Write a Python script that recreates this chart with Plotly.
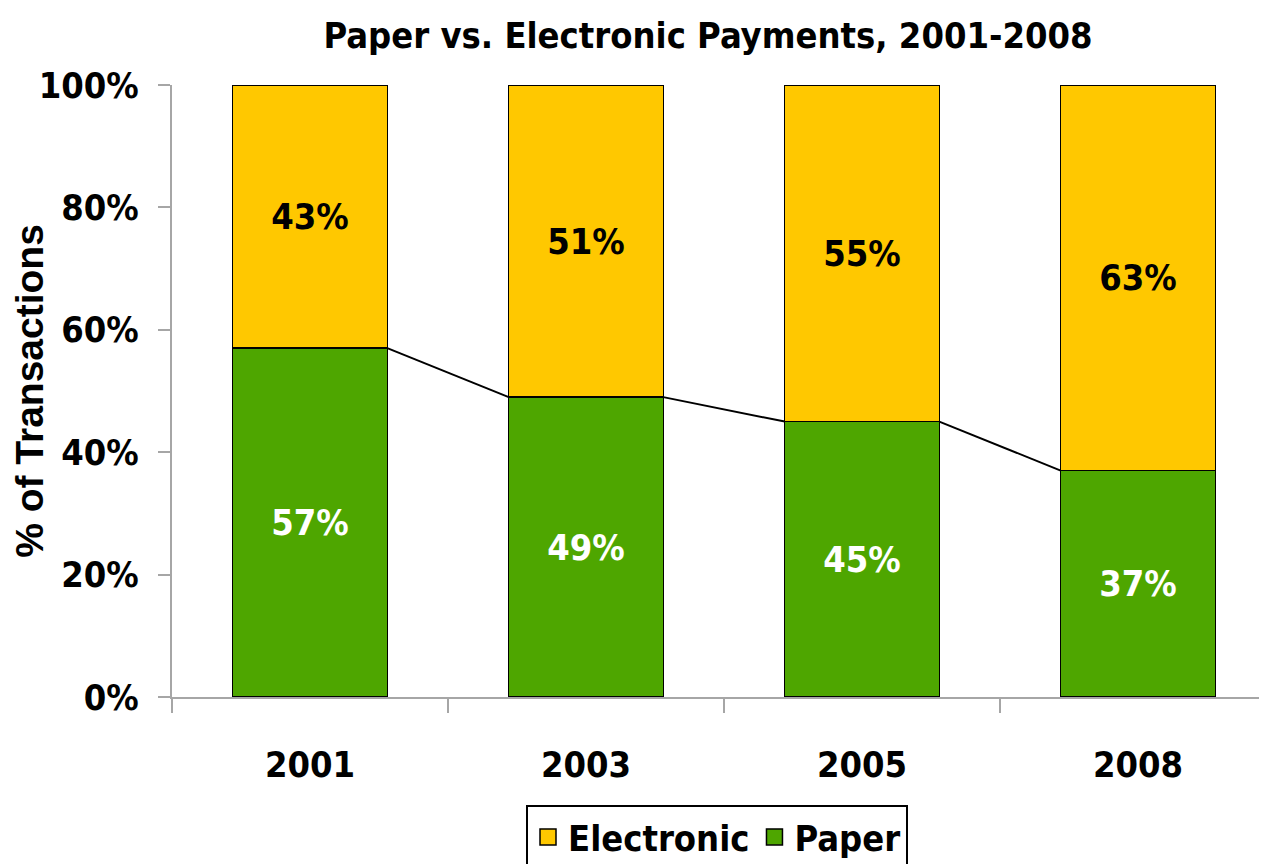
import plotly.graph_objects as go

years = ["2001", "2003", "2005", "2008"]
paper = [57, 49, 45, 37]
electronic = [43, 51, 55, 63]

YELLOW = "#FFC800"
GREEN = "#4EA600"
AXIS = "#A6A6A6"
NARROW = "DejaVu Sans Condensed, Liberation Sans Narrow, sans-serif"
BAR_W = 0.56
FS = 36

# page body has an 8px margin, so the figure is sized to the visible area
W, H = 1259, 856
L, T, B = 164, 77, 167
PW, PH = W - L, H - T - B

xpos = list(range(len(years)))

fig = go.Figure()
fig.add_trace(go.Bar(
    x=xpos, y=[p / 100 for p in paper], name="Paper", width=BAR_W, showlegend=False,
    marker=dict(color=GREEN, line=dict(color="black", width=1.5)),
    text=[f"{p}%" for p in paper], textposition="inside", insidetextanchor="middle",
    textfont=dict(family=NARROW, size=FS, color="white", weight="bold"),
))
fig.add_trace(go.Bar(
    x=xpos, y=[e / 100 for e in electronic], name="Electronic", width=BAR_W, showlegend=False,
    marker=dict(color=YELLOW, line=dict(color="black", width=1.5)),
    text=[f"{e}%" for e in electronic], textposition="inside", insidetextanchor="middle",
    textfont=dict(family=NARROW, size=FS, color="black", weight="bold"),
))

# series lines joining paper tops between neighbouring bars
lx, ly = [], []
for i in range(len(years) - 1):
    lx += [xpos[i] + BAR_W / 2, xpos[i + 1] - BAR_W / 2, None]
    ly += [paper[i] / 100, paper[i + 1] / 100, None]
fig.add_trace(go.Scatter(x=lx, y=ly, mode="lines", line=dict(color="black", width=2),
                         showlegend=False, hoverinfo="skip"))

# legend entries (larger square keys)
for name, col in [("Electronic", YELLOW), ("Paper", GREEN)]:
    fig.add_trace(go.Scatter(x=[None], y=[None], mode="markers", name=name,
                             marker=dict(symbol="square", size=16, color=col,
                                         line=dict(color="black", width=1.5))))

fig.update_layout(
    width=W, height=H,
    barmode="stack",
    plot_bgcolor="white", paper_bgcolor="white",
    margin=dict(l=L, r=0, t=T, b=B, autoexpand=False),
    title=dict(text="<b>Paper vs. Electronic Payments, 2001-2008</b>",
               x=700 / W, xanchor="center", xref="container",
               y=1 - 27 / H, yanchor="middle", yref="container",
               font=dict(family=NARROW, size=FS, color="black")),
    legend=dict(orientation="h", traceorder="normal",
                x=(709 - L) / PW, xanchor="center", y=-(805 - 8 - (T + PH)) / PH, yanchor="top",
                bordercolor="black", borderwidth=2, itemwidth=30,
                font=dict(family=NARROW, size=FS, color="black", weight="bold")),
    showlegend=True,
    uniformtext=dict(mode="show", minsize=10),
    shapes=[dict(type="line", xref="paper", yref="paper", x0=-12 / PW, x1=0, y0=0, y1=0,
                 line=dict(color=AXIS, width=2))],
)
fig.update_xaxes(
    range=[-0.5, -0.5 + PW / 276], showgrid=False, zeroline=False, automargin=False,
    showline=True, linecolor=AXIS, linewidth=2,
    tickvals=xpos, ticktext=years, ticks="", ticklabelstandoff=35,
    tickfont=dict(family=NARROW, size=FS, color="black", weight="bold"),
    minor=dict(tickmode="linear", tick0=-0.5, dtick=1, ticks="outside", ticklen=14,
               tickwidth=2, tickcolor=AXIS),
)
fig.update_yaxes(
    range=[0, 1], dtick=0.2, tickformat=".0%", showgrid=False, zeroline=False, automargin=False,
    showline=True, linecolor=AXIS, linewidth=2,
    ticks="outside", ticklen=12, tickwidth=2, tickcolor=AXIS, ticklabelstandoff=12,
    tickfont=dict(family=NARROW, size=FS, color="black", weight="bold"),
    title=dict(text="<b>% of Transactions</b>", standoff=16,
               font=dict(family="Liberation Sans, Arial, sans-serif", size=39, color="black")),
)

fig.write_html("out.html")
